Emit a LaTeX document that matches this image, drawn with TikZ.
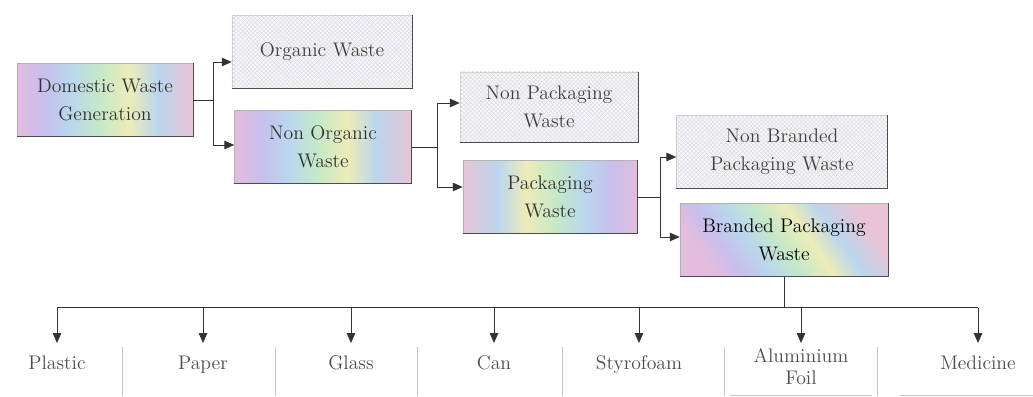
\documentclass[tikz,border=0pt]{standalone}
\usepackage{tikz}
\usetikzlibrary{arrows.meta, positioning, patterns, calc}

\definecolor{rbpink}{RGB}{228,188,222}
\definecolor{rblilac}{RGB}{200,190,236}
\definecolor{rbblue}{RGB}{186,214,238}
\definecolor{rbmint}{RGB}{196,232,200}
\definecolor{rbyellow}{RGB}{236,236,184}
\definecolor{rbrose}{RGB}{232,196,214}

% stripe fill of the coloured boxes
\pgfdeclarehorizontalshading{rainbow}{100bp}{%
  color(0bp)=(rbpink); color(25bp)=(rbpink);
  color(32bp)=(rblilac); color(40bp)=(rbblue);
  color(48bp)=(rbmint); color(57bp)=(rbyellow);
  color(65bp)=(rbblue); color(75bp)=(rbrose);
  color(100bp)=(rbrose)}

\begin{document}
\begin{tikzpicture}[x=0.025cm, y=-0.025cm, font=\fontsize{14}{20}\selectfont,
  rainbox/.style={shade, shading=rainbow, draw=gray!60, align=center,
    text=black!80, minimum height=1.82cm, inner sep=2pt},
  hatchbox/.style={fill=blue!3, postaction={pattern=crosshatch, pattern color=gray!25},
    draw=gray!45, align=center, text=black!75, minimum height=1.82cm, inner sep=2pt},
  edge/.style={draw=black!70, line width=0.9pt},
  link/.style={black!80, line width=0.7pt},
  arr/.style={link, -{Triangle[length=7pt, width=6pt]}},
  item/.style={text=black!70, align=center, anchor=north, inner ysep=9pt,
    font=\fontsize{14}{15}\selectfont},
  sep/.style={gray!45, line width=0.6pt}
]
  \useasboundingbox (0,0) rectangle (1033,396);

  % Waste boxes, left to right
  \node[rainbox, minimum width=4.4cm] (dom) at (105,100) {Domestic Waste\\Generation};
  \node[hatchbox, minimum width=4.5cm] (org) at (322,52) {Organic Waste};
  \node[rainbox, minimum width=4.42cm] (nonorg) at (323,147) {Non Organic\\Waste};
  \node[hatchbox, minimum width=4.45cm, minimum height=1.75cm] (nonpack) at (549,107) {Non Packaging\\Waste};
  \node[rainbox, minimum width=4.35cm, shading angle=180] (pack) at (550,197) {Packaging\\Waste};
  \node[hatchbox, minimum width=5.27cm] (nonbr) at (782,152) {Non Branded\\Packaging Waste};
  \node[rainbox, minimum width=5.2cm, shading angle=35, text=black] (br) at (784,240) {Branded Packaging\\Waste};

  % darker bottom and right edge of each box
  \foreach \n in {dom,org,nonorg,nonpack,pack,nonbr,br}
    \draw[edge] (\n.south west) -- (\n.south east) -- (\n.north east);

  % Splits
  \coordinate (s1) at ($(dom.east)+(20,0)$);
  \draw[link] (dom.east) -- (s1);
  \draw[arr] (s1) |- ($(org.west)+(0,10)$);
  \draw[arr] (s1) |- ($(nonorg.west)+(0,-2)$);

  \coordinate (s2) at ($(nonorg.east)+(26,0)$);
  \draw[link] (nonorg.east) -- (s2);
  \draw[arr] (s2) |- ($(nonpack.west)+(0,-4)$);
  \draw[arr] (s2) |- ($(pack.west)+(0,-10)$);

  \coordinate (s3) at ($(pack.east)+(23,0)$);
  \draw[link] (pack.east) -- (s3);
  \draw[arr] (s3) |- ($(nonbr.west)+(0,5)$);
  \draw[arr] (s3) |- ($(br.west)+(0,-3)$);

  % Branded waste types
  \node[item] (plastic) at (57,343) {Plastic};
  \node[item] (paper) at (203,343) {Paper};
  \node[item] (glass) at (351,343) {Glass};
  \node[item] (can) at (494,343) {Can};
  \node[item] (styro) at (639,343) {Styrofoam};
  \node[item, inner ysep=4pt] (alu) at (801,343) {Aluminium\\Foil};
  \node[item] (med) at (978,343) {Medicine};

  \coordinate (bus) at ($(br.south)+(0,31)$);
  \draw[link] (br.south) -- (bus);
  \draw[link] (plastic |- bus) -- (med |- bus);
  \foreach \t in {plastic,paper,glass,can,styro,alu,med}
    \draw[arr] (\t |- bus) -- (\t.north);

  % column rules under the types
  \foreach \x in {122,275,417,562,724,877}
    \draw[sep] (\x,347) -- (\x,396);
  \draw[sep] (730,395) -- (872,395);
  \draw[sep] (900,395) -- (1033,395);
\end{tikzpicture}
\end{document}
